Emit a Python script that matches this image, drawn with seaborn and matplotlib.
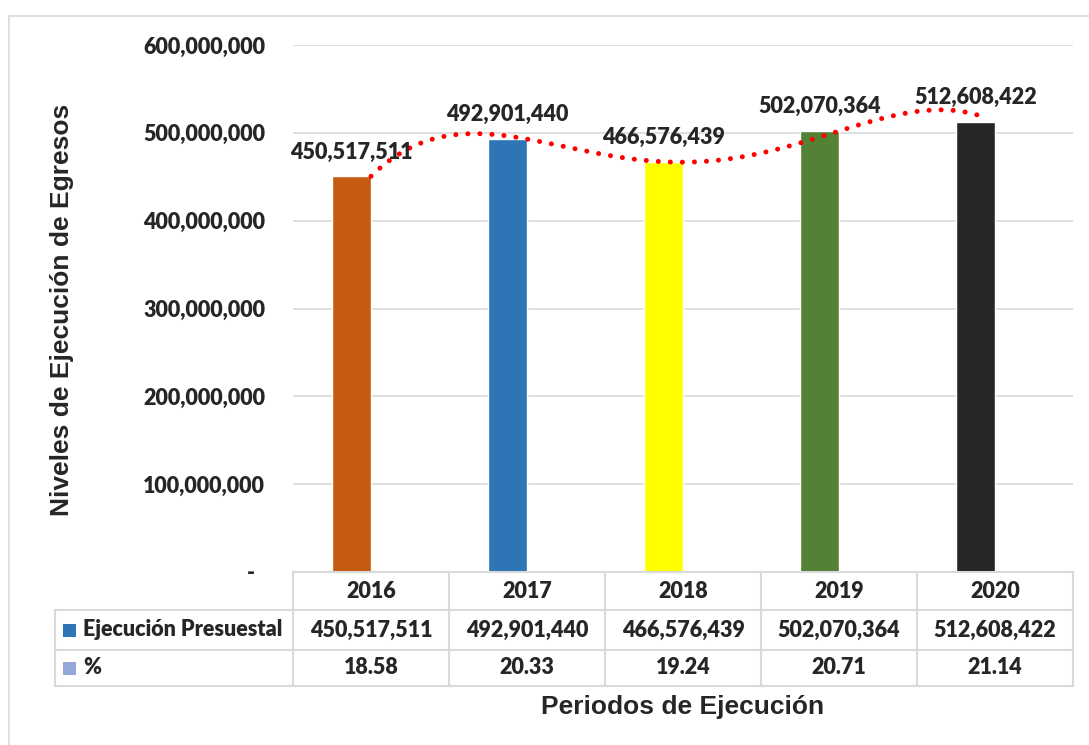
import numpy as np
import pandas as pd
import seaborn as sns
import matplotlib.pyplot as plt
from matplotlib.patches import Rectangle
from matplotlib.ticker import FuncFormatter

# ----------------------------- datos del grafico ----------------------------- #
anios = ['2016', '2017', '2018', '2019', '2020']
ejecucion = [450517511, 492901440, 466576439, 502070364, 512608422]
porcentaje = [18.58, 20.33, 19.24, 20.71, 21.14]
colores = ['#C55A11', '#2E75B6', '#FFFF00', '#538135', '#262626']
filas = ['Ejecución Presuestal', '%']
colores_filas = ['#2E75B6', '#94A7D6']

W, H = 1089, 745
FS = 15.5
PESO = 800
sns.set_style('white')
plt.rcParams['font.family'] = ['Lato', 'DejaVu Sans']

# tabla larga: dos series por año (la de % es casi invisible en la escala)
df = pd.DataFrame({
    'anio': anios * 2,
    'valor': ejecucion + porcentaje,
    'serie': [filas[0]] * 5 + [filas[1]] * 5,
})

fig = plt.figure(figsize=(W / 100, H / 100), dpi=100)

def fx(px):
    return px / W

def fy(py):
    return 1 - py / H

ax = fig.add_axes([fx(293), fy(572), fx(1073) - fx(293), fy(45) - fy(572)])

sns.barplot(data=df, x='anio', y='valor', hue='serie', palette=colores_filas,
            width=0.5, dodge=True, saturation=1, legend=False, ax=ax, zorder=2)
barras = [p for p in ax.patches if p.get_height() > 1000]
barras.sort(key=lambda p: p.get_x())
for p, c in zip(barras, colores):
    p.set_facecolor(c)

# linea de tendencia polinomica (punteada roja)
t = np.arange(len(ejecucion))
coef = np.polyfit(t, ejecucion, 4)
tt = np.linspace(0, 3.94, 300)
ax.plot(tt, np.polyval(coef, tt), color='#FF0000', linewidth=3.6,
        linestyle=(0, (0.01, 2.4)), dash_capstyle='round', zorder=4)

# etiquetas de datos
for p, v in zip(barras, ejecucion):
    ax.annotate(f'{v:,.0f}', (p.get_x() + p.get_width() / 2, v), xytext=(0, 10),
                textcoords='offset points', ha='center', va='bottom',
                fontsize=FS, fontweight=PESO, zorder=5)

ax.set_xlim(-0.5, 4.5)
ax.set_ylim(0, 600000000)
ax.set_yticks(np.arange(0, 600000001, 100000000))
ax.yaxis.set_major_formatter(FuncFormatter(lambda v, p: '-  ' if v == 0 else f'{v:,.0f}'))
ax.set_xticks([])
ax.set_xlabel('')
ax.set_ylabel('')
ax.tick_params(axis='y', length=0, pad=20, labelsize=FS)
for lab in ax.get_yticklabels():
    lab.set_fontweight(PESO)
ax.yaxis.grid(True, color='#D9D9D9', linewidth=1.2, zorder=0)
ax.set_axisbelow(True)
for s in ax.spines.values():
    s.set_visible(False)

# ------------------------------ tabla de datos ------------------------------ #
col_x = [293, 449, 605, 761, 917, 1073]
row_y = [572, 610, 650, 686]
gris = '#D9D9D9'
lw = 1.5
fig.add_artist(plt.Line2D([fx(293), fx(1073)], [fy(572), fy(572)], color=gris, lw=lw))
for y in row_y[1:]:
    fig.add_artist(plt.Line2D([fx(55), fx(1073)], [fy(y), fy(y)], color=gris, lw=lw))
for x in col_x:
    fig.add_artist(plt.Line2D([fx(x), fx(x)], [fy(572), fy(686)], color=gris, lw=lw))
fig.add_artist(plt.Line2D([fx(55), fx(55)], [fy(610), fy(686)], color=gris, lw=lw))

for i in range(len(anios)):
    cx = fx((col_x[i] + col_x[i + 1]) / 2)
    fig.text(cx, fy(591), anios[i], ha='center', va='center', fontsize=FS, fontweight=PESO)
    fig.text(cx, fy(630), f'{ejecucion[i]:,.0f}', ha='center', va='center',
             fontsize=FS, fontweight=PESO)
    fig.text(cx, fy(668), f'{porcentaje[i]:.2f}', ha='center', va='center',
             fontsize=FS, fontweight=PESO)

for j, (nombre, c) in enumerate(zip(filas, colores_filas)):
    yc = [630, 668][j]
    fig.add_artist(Rectangle((fx(63), fy(yc + 6.5)), fx(13), 13 / H,
                             facecolor=c, edgecolor='none'))
    fig.text(fx(83), fy(yc), nombre, ha='left', va='center', fontsize=FS, fontweight=PESO)

# titulos de ejes
fig.text(fx(62), fy(310), 'Niveles de Ejecución de Egresos', rotation=90,
         ha='center', va='center', fontsize=19, fontweight='bold', family='Liberation Sans')
fig.text(fx(683), fy(707), 'Periodos de Ejecución', ha='center', va='center',
         fontsize=19, fontweight='bold', family='Liberation Sans')

# borde exterior del grafico
fig.add_artist(Rectangle((fx(9), fy(760)), fx(1100), 744 / H, fill=False,
                         edgecolor=gris, linewidth=1.2))

fig.savefig('out.png', dpi=100)
